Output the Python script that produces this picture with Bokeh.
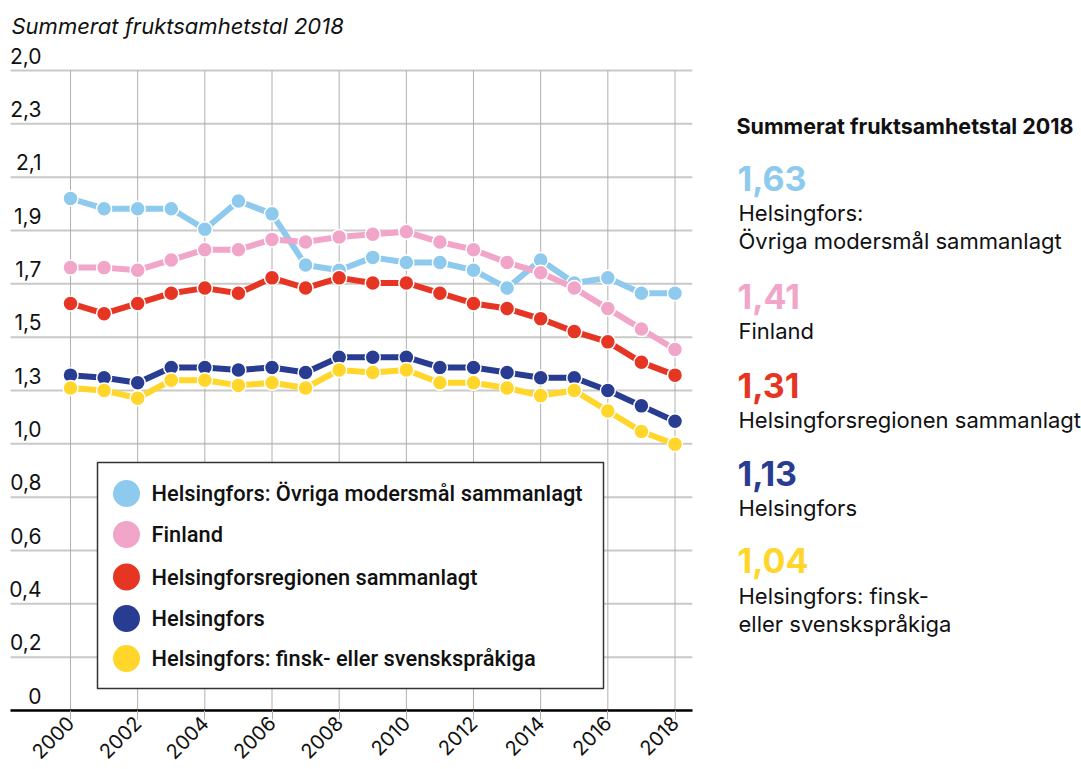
import math
from bokeh.plotting import figure
from bokeh.models import FixedTicker, Range1d
from bokeh.layouts import row
from bokeh.embed import file_html
from bokeh.resources import INLINE
from bokeh.core.properties import value

# ---------------- data ----------------
years = list(range(2000, 2019))
ovriga = [2.00, 1.96, 1.96, 1.96, 1.88, 1.99, 1.94, 1.74, 1.72, 1.77,
          1.75, 1.75, 1.72, 1.65, 1.76, 1.67, 1.69, 1.63, 1.63]
finland = [1.73, 1.73, 1.72, 1.76, 1.80, 1.80, 1.84, 1.83, 1.85, 1.86,
           1.87, 1.83, 1.80, 1.75, 1.71, 1.65, 1.57, 1.49, 1.41]
region = [1.59, 1.55, 1.59, 1.63, 1.65, 1.63, 1.69, 1.65, 1.69, 1.67,
          1.67, 1.63, 1.59, 1.57, 1.53, 1.48, 1.44, 1.36, 1.31]
helsingfors = [1.31, 1.30, 1.28, 1.34, 1.34, 1.33, 1.34, 1.32, 1.38, 1.38,
               1.38, 1.34, 1.34, 1.32, 1.30, 1.30, 1.25, 1.19, 1.13]
finsk = [1.26, 1.25, 1.22, 1.29, 1.29, 1.27, 1.28, 1.26, 1.33, 1.32,
         1.33, 1.28, 1.28, 1.26, 1.23, 1.25, 1.17, 1.09, 1.04]

series_values = [ovriga, finland, region, helsingfors, finsk]
series_names = ["Helsingfors: Övriga modersmål sammanlagt", "Finland",
                "Helsingforsregionen sammanlagt", "Helsingfors",
                "Helsingfors: finsk- eller svenskspråkiga"]
panel_names = [["Helsingfors:", "Övriga modersmål sammanlagt"], ["Finland"],
               ["Helsingforsregionen sammanlagt"], ["Helsingfors"],
               ["Helsingfors: finsk-", "eller svenskspråkiga"]]
colors = ["#8ECAED", "#F1A5C9", "#E63623", "#283D91", "#FFD629"]

x_ticks = [2000, 2002, 2004, 2006, 2008, 2010, 2012, 2014, 2016, 2018]
x_tick_labels = ["2000", "2002", "2004", "2006", "2008", "2010", "2012",
                 "2014", "2016", "2018"]
y_tick_labels = ["0", "0,2", "0,4", "0,6", "0,8", "1,0", "1,3", "1,5",
                 "1,7", "1,9", "2,1", "2,3", "2,0"]
y_top = 2.5
title_text = "Summerat fruktsamhetstal 2018"
panel_title = "Summerat fruktsamhetstal 2018"

# ---------------- layout geometry (page pixels) ----------------
W1, H = 696, 769
FL, FR, FT, FB = 0, 4, 0, 59
frame_w = W1 - FL - FR
frame_h = H - FT - FB
x_first_px, x_last_px = 70, 674.5
ppy = (x_last_px - x_first_px) / (years[-1] - years[0])
x_start = years[0] - (x_first_px - FL) / ppy
x_end = x_start + frame_w / ppy
top_grid_px = 70
frame_bottom_px = FT + frame_h
ppu = (frame_bottom_px - top_grid_px) / y_top
y_end = frame_h / ppu


def dx(px):
    return x_start + (px - FL) / ppy


def dy(py):
    return (frame_bottom_px - py) / ppu


n_grid = len(y_tick_labels)
y_grid_values = [y_top * i / (n_grid - 1) for i in range(n_grid)]
grid_left = dx(10)
grid_right = dx(692)
label_lift = 15 / ppu  # label centres sit 15px above their gridline

# ---------------- main figure ----------------
p = figure(width=W1, height=H, x_range=Range1d(x_start, x_end),
           y_range=Range1d(0, y_end), output_backend="svg",
           toolbar_location=None, y_axis_location=None, title=None,
           min_border_left=FL, min_border_right=FR,
           min_border_top=FT, min_border_bottom=FB)
p.outline_line_color = None
p.background_fill_color = "white"
p.border_fill_color = "white"
p.grid.visible = False

# horizontal gridlines
p.segment(x0=[grid_left] * n_grid, y0=y_grid_values,
          x1=[grid_right] * n_grid, y1=y_grid_values,
          line_color="#c9c9c9", line_width=2)
# vertical gridlines
p.segment(x0=x_ticks, y0=[0] * len(x_ticks), x1=x_ticks,
          y1=[y_top] * len(x_ticks), line_color="#b0b0b0", line_width=1)

ax = p.xaxis[0]
ax.ticker = FixedTicker(ticks=x_ticks)
ax.bounds = (grid_left, grid_right)
ax.major_label_overrides = {t: l for t, l in zip(x_ticks, x_tick_labels)}
ax.major_label_orientation = math.pi / 4
ax.major_label_text_font = "Inter"
ax.major_label_text_font_size = "20px"
ax.major_label_text_color = "#111111"
ax.major_label_standoff = 0
ax.axis_line_color = "black"
ax.axis_line_width = 2.5
ax.major_tick_out = 9
ax.major_tick_in = 0
ax.major_tick_line_color = "#b0b0b0"
ax.minor_tick_out = 0
ax.minor_tick_in = 0

for vals, c in zip(series_values, colors):
    p.line(years, vals, line_color=c, line_width=6)
    p.scatter(years, vals, size=15, fill_color=c, line_color="white",
              line_width=1.5)

# y labels (above each gridline)
p.text(x=dx(41), y=[v + label_lift for v in y_grid_values],
       text=y_tick_labels, text_align="right", text_baseline="middle",
       text_font=value("Inter"), text_font_size="21px", text_color="#111111")

# title
p.text(x=[dx(11)], y=[dy(25)], text=[title_text], text_align="left",
       text_baseline="middle", text_font=value("Inter"),
       text_font_style="italic", text_font_size="22px", text_color="#111111")

# legend box
p.quad(left=[dx(97)], right=[dx(603)], top=[dy(462)], bottom=[dy(688)],
       fill_color="white", line_color="#333333", line_width=1.5)
leg_centers = [493, 534, 576.5, 618, 658]
p.scatter(x=[dx(126)] * len(colors), y=[dy(v) for v in leg_centers],
          size=27, fill_color=colors, line_color=None)
p.text(x=dx(151), y=[dy(v) for v in leg_centers], text=series_names,
       text_align="left", text_baseline="middle",
       text_font=value("Roboto Medium"), text_font_size="21.8px",
       text_color="#111111")

# ---------------- right panel ----------------
W2 = 1081 - W1
X0 = W1
p2 = figure(width=W2, height=H, x_range=Range1d(0, W2),
            y_range=Range1d(frame_h, 0), output_backend="svg",
            toolbar_location=None, x_axis_location=None,
            y_axis_location=None, title=None,
            min_border_left=0, min_border_right=0,
            min_border_top=FT, min_border_bottom=FB)
p2.outline_line_color = None
p2.grid.visible = False
p2.background_fill_color = "white"
p2.border_fill_color = "white"

p2.text(x=[736 - X0], y=[125.5 - FT], text=[panel_title],
        text_baseline="middle", text_font=value("Inter"),
        text_font_style="bold", text_font_size="21.5px", text_color="#111111")

val_centers = [177.5, 295.5, 384.5, 473, 560]
val_texts = [f"{v[-1]:.2f}".replace(".", ",") for v in series_values]
p2.text(x=[737 - X0] * len(val_texts), y=[c - FT for c in val_centers],
        text=val_texts, text_color=colors, text_baseline="middle",
        text_font=value("Inter"), text_font_style="bold",
        text_font_size="34px")

desc_centers = [[212.5, 240.5], [330.5], [419.5], [507.5], [595.5, 623.5]]
dx2, dy2, dt = [], [], []
for lines, cents in zip(panel_names, desc_centers):
    for ln, c in zip(lines, cents):
        dx2.append(738 - X0)
        dy2.append(c - FT)
        dt.append(ln)
p2.text(x=dx2, y=dy2, text=dt, text_baseline="middle",
        text_font=value("Inter"), text_font_size="22px", text_color="#111111")

layout = row(p, p2)
html = file_html(layout, INLINE, title=title_text)
with open("out.html", "w", encoding="utf-8") as f:
    f.write(html)
